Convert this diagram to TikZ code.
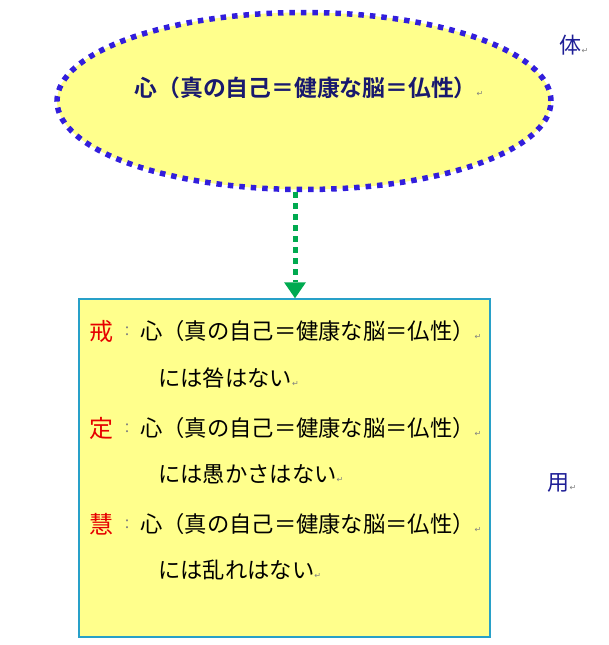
\documentclass[tikz,border=0pt]{standalone}
\usepackage{fontspec}
\newfontfamily\jp{Noto Sans CJK JP}
\newfontfamily\jpb{Noto Sans CJK JP Bold}
\newfontfamily\dv{DejaVu Sans}
\usetikzlibrary{shapes.geometric,arrows.meta}
\definecolor{fillyellow}{RGB}{255,255,140}
\definecolor{dotblue}{RGB}{50,30,220}
\definecolor{navy}{RGB}{25,25,110}
\definecolor{kanjiblue}{RGB}{30,30,150}
\definecolor{arrowgreen}{RGB}{0,170,80}
\definecolor{boxcyan}{RGB}{40,160,200}
\definecolor{markred}{RGB}{230,0,0}
\newcommand{\rmark}{{\dv\fontsize{8pt}{8pt}\selectfont\color{gray}↵}}
\tikzset{
  body/.style={anchor=west,inner sep=0pt,font=\jp\fontsize{22.3pt}{24pt}\selectfont,text=black},
  headchar/.style={anchor=west,inner sep=0pt,font=\jp\fontsize{24pt}{26pt}\selectfont,text=markred},
  colonmark/.style={inner sep=0pt,font=\jp\fontsize{14pt}{16pt}\selectfont,text=gray},
  sidechar/.style={inner sep=0pt,font=\jp\fontsize{22pt}{24pt}\selectfont,text=kanjiblue},
}
\begin{document}
\begin{tikzpicture}[x=1pt,y=-1pt]
\useasboundingbox (0,0) rectangle (608,645);
% ellipse
\node[ellipse,draw=dotblue,fill=fillyellow,line width=5.5pt,dash pattern=on 5.5pt off 6pt,
  minimum width=494pt,minimum height=177pt,inner sep=0pt] (heart) at (304,101) {};
\node[inner sep=0pt,font=\jpb\fontsize{22.8pt}{24pt}\selectfont,text=navy] (title) at (309,88)
  {心（真の自己＝健康な脳＝仏性）\rmark};
\node[sidechar] (tai) at (574,45) {体\rmark};
% box
\node[draw=boxcyan,fill=fillyellow,line width=1.5pt,minimum width=411pt,minimum height=338pt,
  inner sep=0pt] (box) at (284.5,468) {};
% arrow
\coordinate (astart) at (295,192);
\coordinate (aend) at (box.north -| astart);
\draw[arrowgreen,line width=5pt,dash pattern=on 6pt off 5pt,
  -{Triangle[width=22pt,length=16pt,line width=0pt]}] (astart) -- (aend);
% text lines
\node[headchar] (kai) at (89,331) {戒};
\node[colonmark] (c1) at (127,332) {：};
\node[body] (l1) at (140,331) {心（真の自己＝健康な脳＝仏性）\rmark};
\node[body] (l2) at (158,378) {には咎はない\rmark};
\node[headchar] (jo) at (89,428) {定};
\node[colonmark] (c2) at (127,429) {：};
\node[body] (l3) at (140,428) {心（真の自己＝健康な脳＝仏性）\rmark};
\node[body] (l4) at (158,474) {には愚かさはない\rmark};
\node[headchar] (e) at (89,524) {慧};
\node[colonmark] (c3) at (127,525) {：};
\node[body] (l5) at (140,524) {心（真の自己＝健康な脳＝仏性）\rmark};
\node[body] (l6) at (158,570) {には乱れはない\rmark};
\node[sidechar] (yo) at (562,483) {用\rmark};
\end{tikzpicture}
\end{document}
